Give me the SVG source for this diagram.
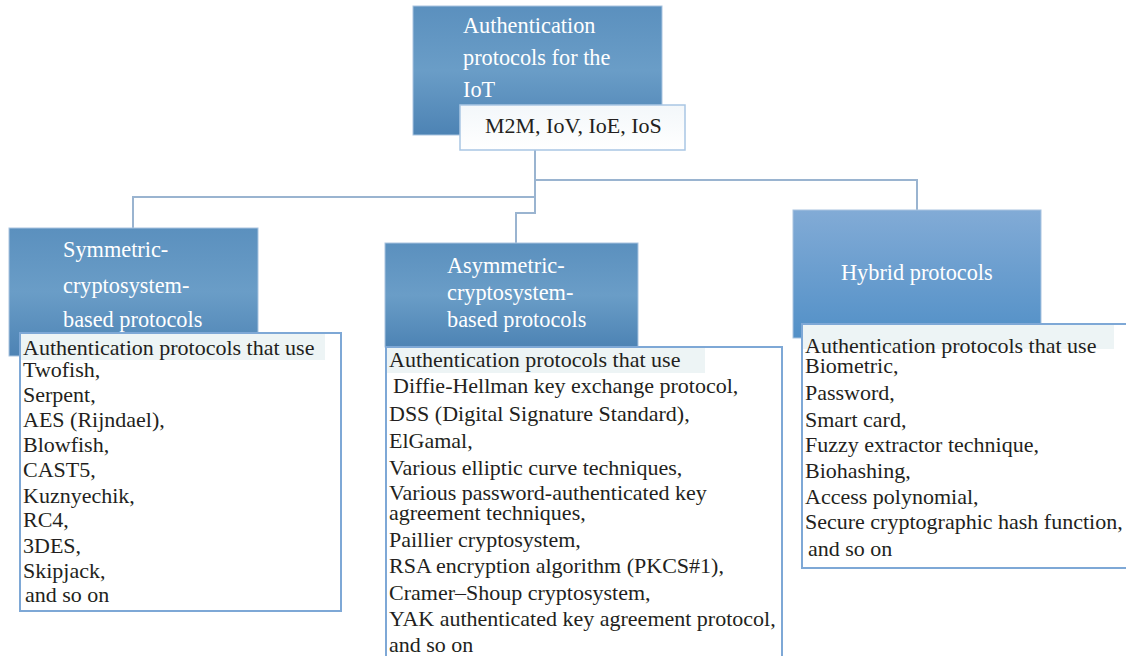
<svg xmlns="http://www.w3.org/2000/svg" width="1126" height="656" viewBox="0 0 1126 656">
<defs>
<linearGradient id="gHead" x1="0" y1="0" x2="0" y2="1">
<stop offset="0" stop-color="#5b90be"/>
<stop offset="0.5" stop-color="#6a9dc7"/>
<stop offset="1" stop-color="#4d83b4"/>
</linearGradient>
<linearGradient id="gHyb" x1="0" y1="0" x2="0" y2="1">
<stop offset="0" stop-color="#82abd6"/>
<stop offset="1" stop-color="#5290c7"/>
</linearGradient>
<linearGradient id="gSub" x1="0" y1="0" x2="0" y2="1">
<stop offset="0" stop-color="#f3f7fa"/>
<stop offset="1" stop-color="#ffffff"/>
</linearGradient>
</defs>
<style>
.head{stroke:#a9c4e0;stroke-width:1}
.list{fill:#ffffff;stroke:#7ea8d6;stroke-width:2}
.hl{fill:#edf4f5}
.wt{font-family:"Liberation Serif","Times New Roman",serif;font-size:22.3px;fill:#ffffff}
.bt{font-family:"Liberation Serif","Times New Roman",serif;font-size:22px;fill:#231f20}
.conn{fill:none;stroke:#9ab4d0;stroke-width:2}
</style>
<rect width="1126" height="656" fill="#ffffff"/>

<g id="connectors">
<path class="conn" d="M535 150 V213 H516 V243"/>
<path class="conn" d="M535 197 H133 V228"/>
<path class="conn" d="M535 180 H917 V210"/>
</g>

<g id="root">
<rect x="413" y="6" width="249" height="129" fill="url(#gHead)" class="head"/>
<text class="wt" font-size="23.2"><tspan x="463" y="33">Authentication</tspan><tspan x="463" y="65">protocols for the</tspan><tspan x="463" y="97">IoT</tspan></text>
</g>
<g id="root-sub">
<rect x="460" y="105" width="225" height="45" fill="url(#gSub)" stroke="#a9c6e4" stroke-width="1.5"/>
<text class="bt" x="485" y="133" font-size="22.8">M2M, IoV, IoE, IoS</text>
</g>

<g id="symmetric">
<rect x="9" y="228" width="249" height="128" fill="url(#gHead)" class="head"/>
<text class="wt"><tspan x="63" y="257">Symmetric-</tspan><tspan x="63" y="293">cryptosystem-</tspan><tspan x="63" y="327">based protocols</tspan></text>
</g>
<g id="symmetric-list">
<rect class="list" x="20" y="333" width="321" height="278"/>
<rect class="hl" x="21" y="334" width="304" height="26"/>
<text class="bt"><tspan x="23" y="355">Authentication protocols that use</tspan><tspan x="23" y="377">Twofish,</tspan><tspan x="23" y="402">Serpent,</tspan><tspan x="23" y="427">AES (Rijndael),</tspan><tspan x="23" y="452">Blowfish,</tspan><tspan x="23" y="477">CAST5,</tspan><tspan x="23" y="503">Kuznyechik,</tspan><tspan x="23" y="527">RC4,</tspan><tspan x="23" y="553">3DES,</tspan><tspan x="23" y="578">Skipjack,</tspan><tspan x="25" y="602">and so on</tspan></text>
</g>

<g id="asymmetric">
<rect x="385" y="243" width="253" height="104" fill="url(#gHead)" class="head"/>
<text class="wt"><tspan x="447" y="273">Asymmetric-</tspan><tspan x="447" y="300">cryptosystem-</tspan><tspan x="447" y="327">based protocols</tspan></text>
</g>
<g id="asymmetric-list">
<rect class="list" x="386" y="347" width="396" height="320"/>
<rect class="hl" x="387" y="348" width="318" height="25"/>
<text class="bt"><tspan x="389" y="367">Authentication protocols that use</tspan><tspan x="393" y="393">Diffie-Hellman key exchange protocol,</tspan><tspan x="389" y="421">DSS (Digital Signature Standard),</tspan><tspan x="389" y="448">ElGamal,</tspan><tspan x="389" y="475">Various elliptic curve techniques,</tspan><tspan x="389" y="500">Various password-authenticated key</tspan><tspan x="389" y="520">agreement techniques,</tspan><tspan x="389" y="547">Paillier cryptosystem,</tspan><tspan x="389" y="573">RSA encryption algorithm (PKCS#1),</tspan><tspan x="389" y="600">Cramer–Shoup cryptosystem,</tspan><tspan x="389" y="626">YAK authenticated key agreement protocol,</tspan><tspan x="389" y="652">and so on</tspan></text>
</g>

<g id="hybrid">
<rect x="793" y="210" width="248" height="128" fill="url(#gHyb)" class="head"/>
<text class="wt" x="841" y="280">Hybrid protocols</text>
</g>
<g id="hybrid-list">
<rect class="list" x="802" y="324" width="330" height="244"/>
<rect class="hl" x="803" y="325" width="311" height="24"/>
<text class="bt"><tspan x="805" y="353">Authentication protocols that use</tspan><tspan x="805" y="373">Biometric,</tspan><tspan x="805" y="400">Password,</tspan><tspan x="805" y="427">Smart card,</tspan><tspan x="805" y="452">Fuzzy extractor technique,</tspan><tspan x="805" y="478">Biohashing,</tspan><tspan x="805" y="504">Access polynomial,</tspan><tspan x="805" y="529">Secure cryptographic hash function,</tspan><tspan x="808" y="556">and so on</tspan></text>
</g>
</svg>
